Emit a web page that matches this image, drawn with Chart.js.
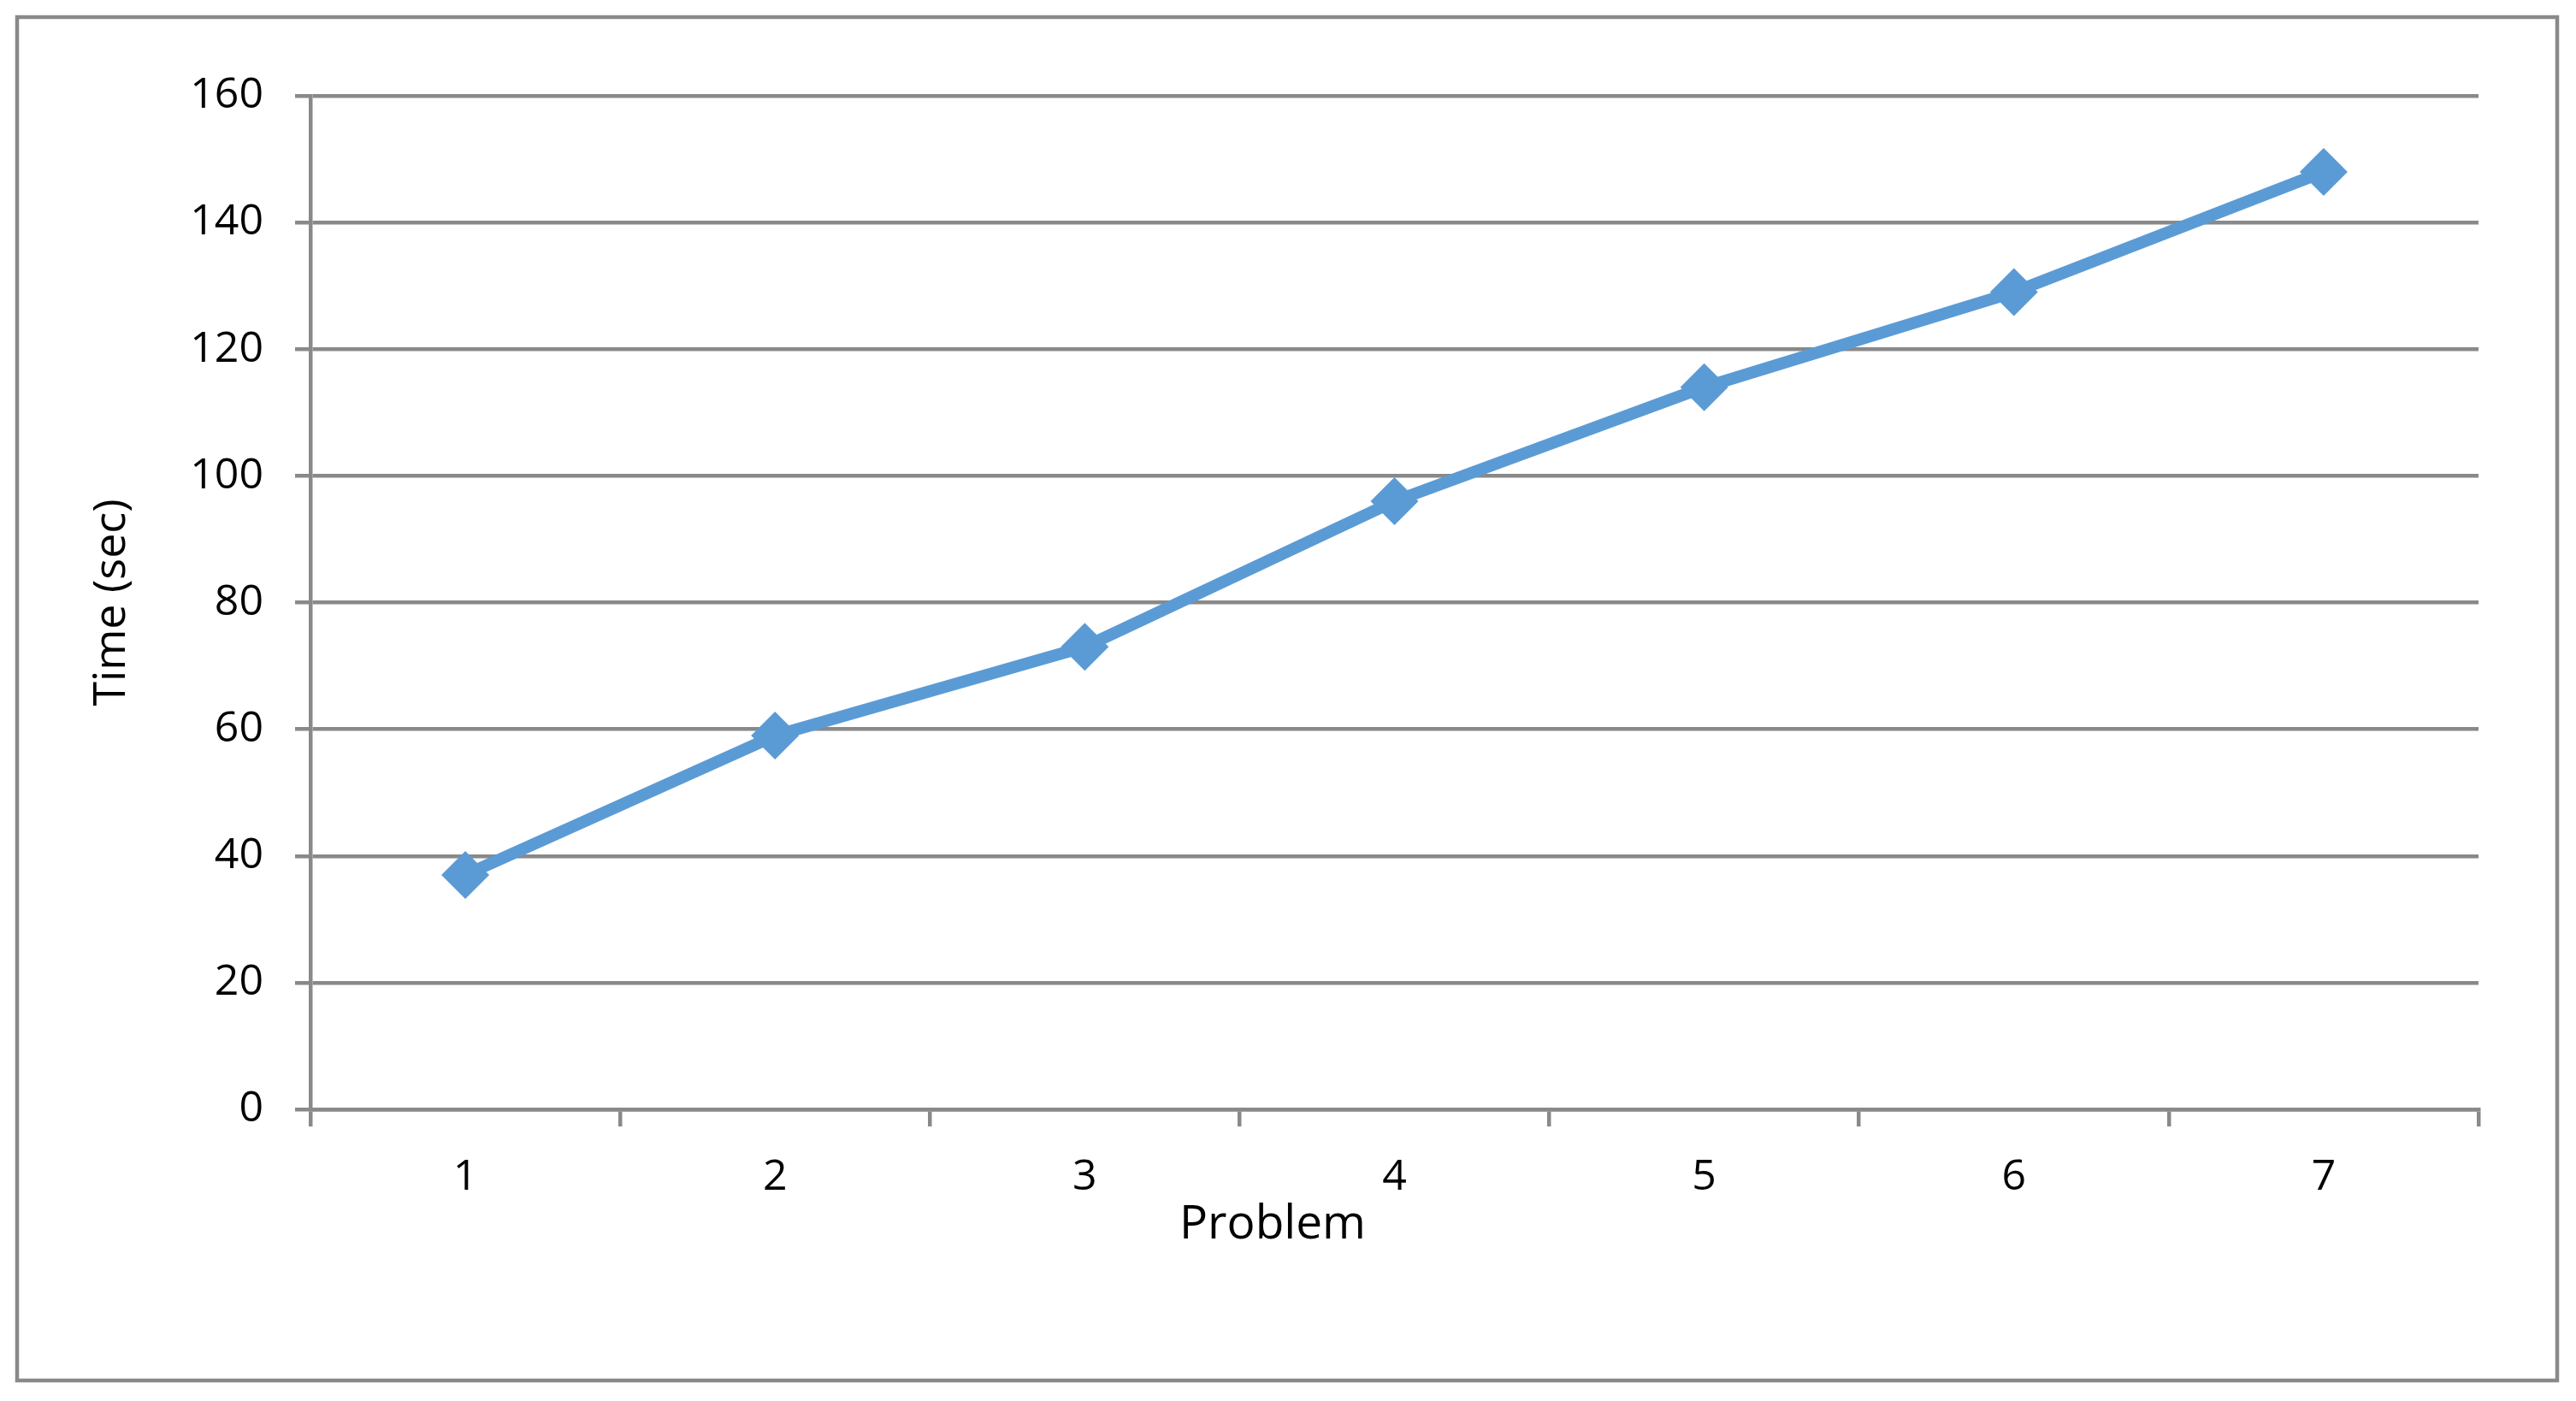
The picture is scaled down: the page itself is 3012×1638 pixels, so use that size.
<!DOCTYPE html>
<html>
<head>
<meta charset="utf-8">
<title>Time per problem</title>
<script src="https://cdn.jsdelivr.net/npm/chart.js@4/dist/chart.umd.min.js"></script>
<style>
  html, body { margin: 0; padding: 0; background: #fff; }
  canvas { display: block; }
</style>
</head>
<body>
<canvas id="chart" width="3012" height="1638"></canvas>
<script>
// Data
const problems = ['1', '2', '3', '4', '5', '6', '7'];
const timeSec  = [37, 59, 73, 96, 114, 129, 148];
const yTicks   = [0, 20, 40, 60, 80, 100, 120, 140, 160];

const BLUE  = '#5B9BD5';
const GRAY  = '#898989';
const FONT  = "'Open Sans', 'Noto Sans', sans-serif";

// Outer frame round the whole chart
const frame = {
  id: 'frame',
  beforeDraw(chart) {
    const ctx = chart.ctx;
    ctx.save();
    ctx.fillStyle = '#fff';
    ctx.fillRect(0, 0, chart.width, chart.height);
    ctx.strokeStyle = GRAY;
    ctx.lineWidth = 4.5;
    ctx.strokeRect(20, 20, chart.width - 42, chart.height - 44);
    ctx.restore();
  }
};

new Chart(document.getElementById('chart'), {
  type: 'line',
  data: {
    labels: problems,
    datasets: [{
      data: timeSec,
      borderColor: BLUE,
      backgroundColor: BLUE,
      borderWidth: 14,
      borderJoinStyle: 'round',
      borderCapStyle: 'round',
      tension: 0,
      pointStyle: 'rectRot',
      pointRadius: 28,
      pointHoverRadius: 28,
      pointBackgroundColor: BLUE,
      pointBorderWidth: 0
    }]
  },
  options: {
    responsive: false,
    animation: false,
    events: [],
    layout: { padding: { left: 78, right: 114, top: 112, bottom: 0 } },
    plugins: {
      legend: { display: false },
      tooltip: { enabled: false },
      title: {
        display: true,
        position: 'bottom',
        text: 'Problem',
        color: '#000',
        font: { family: FONT, size: 55, weight: 'normal' },
        padding: { top: 0, bottom: 173 }
      }
    },
    scales: {
      x: {
        offset: true,
        afterFit: s => { s.height = 102; },
        grid: { display: true, offset: true, drawOnChartArea: false, drawTicks: true,
                tickLength: 20, color: GRAY, lineWidth: 4.5 },
        border: { color: GRAY, width: 4.5 },
        ticks: { color: '#000', padding: 30, font: { family: FONT, size: 50 } }
      },
      y: {
        min: 0,
        max: 160,
        afterFit: s => { s.width = 285; },
        afterBuildTicks: s => { s.ticks = yTicks.map(v => ({ value: v })); },
        grid: { color: GRAY, lineWidth: 4.5, drawTicks: true, tickLength: 18 },
        border: { color: GRAY, width: 4.5 },
        ticks: { color: '#000', padding: 37, font: { family: FONT, size: 50 } },
        title: {
          display: true,
          text: 'Time (sec)',
          color: '#000',
          font: { family: FONT, size: 52 },
          padding: { top: 22, bottom: 0 }
        }
      }
    }
  },
  plugins: [frame]
});
</script>
</body>
</html>
